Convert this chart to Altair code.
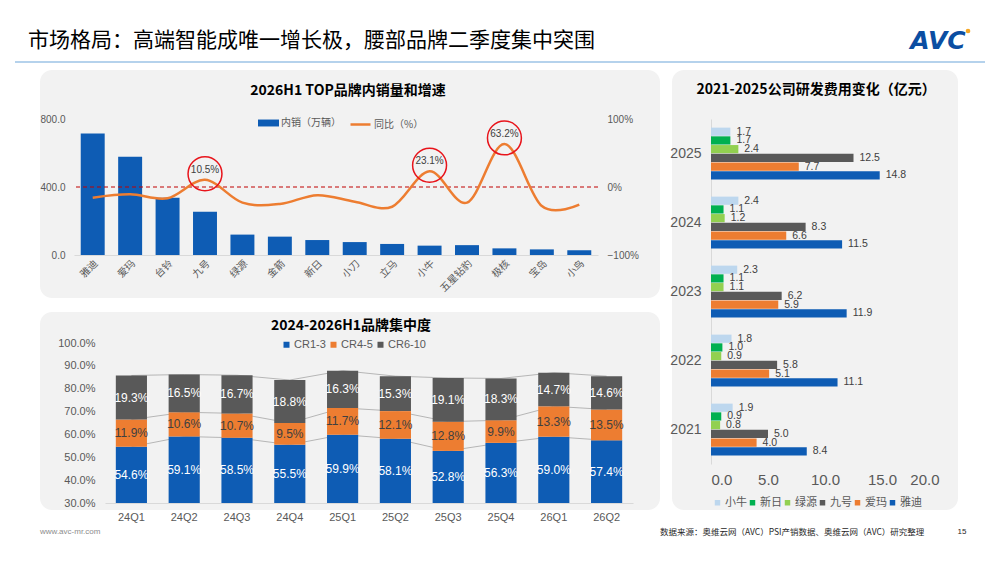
import altair as alt
import pandas as pd

BLUE = "#0e5cb4"
ORANGE = "#ed7d31"
DARK = "#595959"
PANEL = "#f2f2f2"
CJK = "Noto Sans CJK SC"
NUM = "Liberation Sans"

# --- 2026H1 TOP品牌内销量和增速
brands = ["雅迪", "爱玛", "台铃", "九号", "绿源", "金箭", "新日", "小刀", "立马",
          "小牛", "五星钻豹", "极核", "宝岛", "小鸟"]
sales = [715, 578, 337, 255, 120, 108, 88, 76, 65, 55, 58, 39, 33, 28]
yoy = [-0.157, -0.108, -0.166, 0.105, -0.23, -0.25, -0.12, -0.216, -0.29,
       0.231, -0.23, 0.632, -0.28, -0.26]
highlight = ["九号", "小牛", "极核"]

# --- 2024-2026H1品牌集中度
quarters = ["24Q1", "24Q2", "24Q3", "24Q4", "25Q1", "25Q2", "25Q3", "25Q4", "26Q1", "26Q2"]
cr_1_3 = [54.6, 59.1, 58.5, 55.5, 59.9, 58.1, 52.8, 56.3, 59.0, 57.4]
cr_4_5 = [11.9, 10.6, 10.7, 9.5, 11.7, 12.1, 12.8, 9.9, 13.3, 13.5]
cr_6_10 = [19.3, 16.5, 16.7, 18.8, 16.3, 15.3, 19.1, 18.3, 14.7, 14.6]
cr_names = ["CR1-3", "CR4-5", "CR6-10"]

# --- 2021-2025公司研发费用变化（亿元）
years = ["2025", "2024", "2023", "2022", "2021"]
rd_brands = ["小牛", "新日", "绿源", "九号", "爱玛", "雅迪"]
rd_colors = ["#bdd7ee", "#00b050", "#92d050", DARK, ORANGE, BLUE]
rd_xiaoniu = [1.7, 2.4, 2.3, 1.8, 1.9]
rd_xinri = [1.7, 1.1, 1.1, 1.0, 0.9]
rd_lvyuan = [2.4, 1.2, 1.1, 0.9, 0.8]
rd_jiuhao = [12.5, 8.3, 6.2, 5.8, 5.0]
rd_aima = [7.7, 6.6, 5.9, 5.1, 4.0]
rd_yadi = [14.8, 11.5, 11.9, 11.1, 8.4]

top_df = pd.DataFrame({"brand": brands, "sales": sales, "yoy": yoy})
cr_df = pd.DataFrame([
    {"quarter": q, "grp": g, "order": k, "value": v}
    for k, (g, vals) in enumerate(zip(cr_names, [cr_1_3, cr_4_5, cr_6_10]))
    for q, v in zip(quarters, vals)
])
rd_df = pd.DataFrame([
    {"year": y, "brand": b, "value": v}
    for b, vals in zip(rd_brands, [rd_xiaoniu, rd_xinri, rd_lvyuan, rd_jiuhao, rd_aima, rd_yadi])
    for y, v in zip(years, vals)
])
one = pd.DataFrame({"k": [0]})

# page position of the top plot's origin; decorations are placed relative to it
OX, OY = 74, 119


def px(x):
    return x - OX


def py(y):
    return y - OY


def deco_rect(x1, y1, x2, y2, **kw):
    return alt.Chart(one).mark_rect(**kw).encode(
        x=alt.value(px(x1)), x2=alt.value(px(x2)), y=alt.value(py(y1)), y2=alt.value(py(y2))
    )


def deco_text(s, x, y, **kw):
    return alt.Chart(one).mark_text(text=s, **kw).encode(x=alt.value(px(x)), y=alt.value(py(y)))


title_style = dict(font=CJK, fontSize=14, fontWeight="bold", color="#000000", baseline="middle")

decorations = [
    deco_rect(8, 8, 992, 555, fill="white"),
    deco_rect(40, 70, 660, 298, fill=PANEL, cornerRadius=12),
    deco_rect(40, 312, 660, 510, fill=PANEL, cornerRadius=12),
    deco_rect(672, 70, 958, 510, fill=PANEL, cornerRadius=12),
    alt.Chart(one).mark_rule(color="#9dc3e6", strokeWidth=1.5).encode(
        x=alt.value(px(15)), x2=alt.value(px(985)), y=alt.value(py(62))
    ),
    deco_text("市场格局：高端智能成唯一增长极，腰部品牌二季度集中突围", 28, 41,
              align="left", baseline="middle", font=CJK, fontSize=21, color="#000000"),
    deco_text("AVC", 938, 41, align="center", baseline="middle", font="DejaVu Sans",
              fontSize=25, fontWeight="bold", fontStyle="italic", color="#0b4ea2"),
    alt.Chart(one).mark_point(shape="circle", filled=True, size=22, color="#f5a623", opacity=1).encode(
        x=alt.value(px(968)), y=alt.value(py(31))
    ),
    deco_text("2026H1 TOP品牌内销量和增速", 348, 91, **title_style),
    deco_text("2024-2026H1品牌集中度", 351, 326, **title_style),
    deco_text("2021-2025公司研发费用变化（亿元）", 816, 90, **title_style),
    deco_text("www.avc-mr.com", 40, 532, align="left", baseline="middle", font=NUM,
              fontSize=8, color="#8c8c8c"),
    deco_text("数据来源：奥维云网（AVC）PSI产销数据、奥维云网（AVC）研究整理", 660, 532,
              align="left", baseline="middle", font=CJK, fontSize=8.5, color="#262626"),
    deco_text("15", 962, 532, align="center", baseline="middle", font=NUM, fontSize=8, color="#262626"),
]

# ---------------- top chart ----------------
x_top = alt.X(
    "brand:N", sort=brands, title=None,
    scale=alt.Scale(paddingInner=0.36, paddingOuter=0.18),
    axis=alt.Axis(labelAngle=-45, labelFont=CJK, labelFontSize=10, labelColor=DARK,
                  ticks=False, domainColor="#d9d9d9", labelPadding=3, zindex=1),
)
bars = alt.Chart(top_df).transform_calculate(series="'内销（万辆）'").mark_bar().encode(
    x=x_top,
    y=alt.Y("sales:Q", title=None, scale=alt.Scale(domain=[0, 800]),
            axis=alt.Axis(values=[0, 400, 800], format=".1f", grid=False, domain=False,
                          ticks=False, labelPadding=9, labelFontSize=10, labelColor=DARK,
                          labelFont=NUM, zindex=1)),
    color=alt.Color("series:N", scale=alt.Scale(range=[BLUE]),
                    legend=alt.Legend(orient="none", legendX=184, legendY=-6.5, title=None,
                                      symbolType="M-1,-0.33H1V0.33H-1Z", symbolSize=441,
                                      symbolStrokeWidth=0, labelFont=CJK, labelFontSize=10,
                                      labelColor=DARK, labelOffset=2, padding=0)),
)

yoy_scale = alt.Scale(domain=[-1, 1])
yoy_axis = alt.Axis(orient="right", values=[-1, 0, 1], format=".0%", grid=False, domain=False,
                    ticks=False, labelPadding=9, labelFontSize=10, labelColor=DARK,
                    labelFont=NUM, zindex=1)

zero = alt.Chart(one).mark_rule(color="#c00000", strokeDash=[4, 3], strokeWidth=1).encode(
    y=alt.Y(datum=0, scale=yoy_scale, axis=yoy_axis, title=None)
)
line = alt.Chart(top_df).transform_calculate(series="'同比（%）'").mark_line(
    strokeWidth=2.5, interpolate="cardinal"
).encode(
    x=x_top,
    y=alt.Y("yoy:Q", title=None, scale=yoy_scale, axis=yoy_axis),
    color=alt.Color("series:N", scale=alt.Scale(range=[ORANGE]),
                    legend=alt.Legend(orient="none", legendX=275, legendY=-6, title=None,
                                      symbolType="stroke", symbolSize=400, symbolStrokeWidth=2.5,
                                      labelFont=CJK, labelFontSize=10, labelColor=DARK,
                                      labelOffset=2, padding=0)),
)
hl = alt.Chart(top_df).transform_filter(alt.FieldOneOfPredicate(field="brand", oneOf=highlight))
hl_text = hl.mark_text(dy=-10, font=NUM, fontSize=10, color="#404040").encode(
    x=x_top,
    y=alt.Y("yoy:Q", title=None, scale=yoy_scale, axis=yoy_axis),
    text=alt.Text("yoy:Q", format=".1%"),
)
hl_ring = hl.transform_calculate(ring="datum.yoy + 0.09").mark_point(
    shape="circle", size=1150, filled=False, color="#e8141b", strokeWidth=1.5, opacity=1
).encode(
    x=x_top,
    y=alt.Y("ring:Q", title=None, scale=yoy_scale, axis=yoy_axis),
)
yoy_layer = alt.layer(zero, line, hl_text, hl_ring)

top = alt.layer(*decorations, bars, yoy_layer).resolve_scale(
    y="independent", color="independent"
).properties(width=524, height=136)

# ---------------- bottom chart ----------------
x_bot = alt.X(
    "quarter:N", sort=quarters, title=None,
    scale=alt.Scale(range=[31, 559], paddingInner=0.41, paddingOuter=0.205),
    axis=alt.Axis(labelAngle=0, labelFont=NUM, labelFontSize=11, labelColor=DARK,
                  ticks=False, domainColor="#d9d9d9", labelPadding=8),
)
y_bot_scale = alt.Scale(domain=[30, 100])
y_bot_axis = alt.Axis(values=[30, 40, 50, 60, 70, 80, 90, 100],
                      labelExpr="format(datum.value, '.1f') + '%'", grid=False, domain=False,
                      ticks=False, labelPadding=10, offset=-31, labelFontSize=11,
                      labelColor=DARK, labelFont=NUM)

stacked = alt.Chart(cr_df).transform_stack(
    stack="value", groupby=["quarter"], as_=["y0", "y1"],
    sort=[alt.SortField("order", order="ascending")],
)
lines_b = stacked.mark_line(color="#a6a6a6", strokeWidth=0.8).encode(
    x=x_bot,
    y=alt.Y("y1:Q", title=None, scale=y_bot_scale, axis=y_bot_axis),
    detail="grp:N",
)
bars_b = stacked.mark_bar(clip=True).encode(
    x=x_bot,
    y=alt.Y("y0:Q", title=None, scale=y_bot_scale, axis=y_bot_axis),
    y2="y1:Q",
    color=alt.Color("grp:N", sort=cr_names,
                    scale=alt.Scale(domain=cr_names, range=[BLUE, ORANGE, DARK]),
                    legend=alt.Legend(orient="none", direction="horizontal", legendX=207,
                                      legendY=-4, title=None, symbolType="square",
                                      symbolSize=36, labelFont=NUM, labelFontSize=11,
                                      labelColor=DARK, columnPadding=2, labelOffset=2,
                                      padding=0)),
)
labels_b = stacked.transform_calculate(
    mid="(max(datum.y0, 30) + datum.y1) / 2",
    lab="format(datum.value, '.1f') + '%'",
).mark_text(font=NUM, fontSize=12).encode(
    x=x_bot,
    y=alt.Y("mid:Q", title=None, scale=y_bot_scale, axis=y_bot_axis),
    text="lab:N",
    color=alt.condition(alt.datum.grp == "CR4-5", alt.value("#404040"), alt.value("white")),
)
bottom = alt.layer(lines_b, bars_b, labels_b).properties(width=559, height=160)

# ---------------- right chart ----------------
y_r = alt.Y(
    "year:N", sort=years, title=None,
    scale=alt.Scale(range=[0, 345], paddingInner=0.25, paddingOuter=0.125),
    axis=alt.Axis(labelFont=NUM, labelFontSize=14, labelColor=DARK, ticks=False,
                  domainColor="#d9d9d9", labelPadding=10),
)
yo_r = alt.YOffset("brand:N", sort=rd_brands, scale=alt.Scale(paddingInner=0.06))
x_r = alt.X(
    "value:Q", title=None, scale=alt.Scale(domain=[0, 20]),
    axis=alt.Axis(values=[0, 5, 10, 15, 20], format=".1f", grid=False, domain=False,
                  ticks=False, labelFont=NUM, labelFontSize=15, labelColor=DARK,
                  labelPadding=8, offset=209),
)
bars_r = alt.Chart(rd_df).mark_bar().encode(
    y=y_r, yOffset=yo_r, x=x_r,
    color=alt.Color("brand:N", sort=rd_brands,
                    scale=alt.Scale(domain=rd_brands, range=rd_colors),
                    legend=alt.Legend(orient="none", direction="horizontal", legendX=1,
                                      legendY=378, title=None, symbolType="square",
                                      symbolSize=30, labelFont=CJK, labelFontSize=11,
                                      labelColor=DARK, columnPadding=0, labelOffset=2,
                                      padding=0)),
)
text_r = alt.Chart(rd_df).mark_text(align="left", dx=6, font=NUM, fontSize=10.5, color="#404040").encode(
    y=y_r, yOffset=yo_r, x=x_r, text=alt.Text("value:Q", format=".1f"),
)
right = alt.layer(bars_r, text_r).properties(width=228, height=136)

chart = alt.concat(
    top, right, bottom, columns=2, bounds="flush", align="each",
    spacing=alt.RowColnumber(row=88, column=78),
).resolve_scale(color="independent").properties(
    padding=0, background="white"
).configure_view(strokeWidth=0)

chart.save("out.html", embed_options={"renderer": "svg", "actions": False})
